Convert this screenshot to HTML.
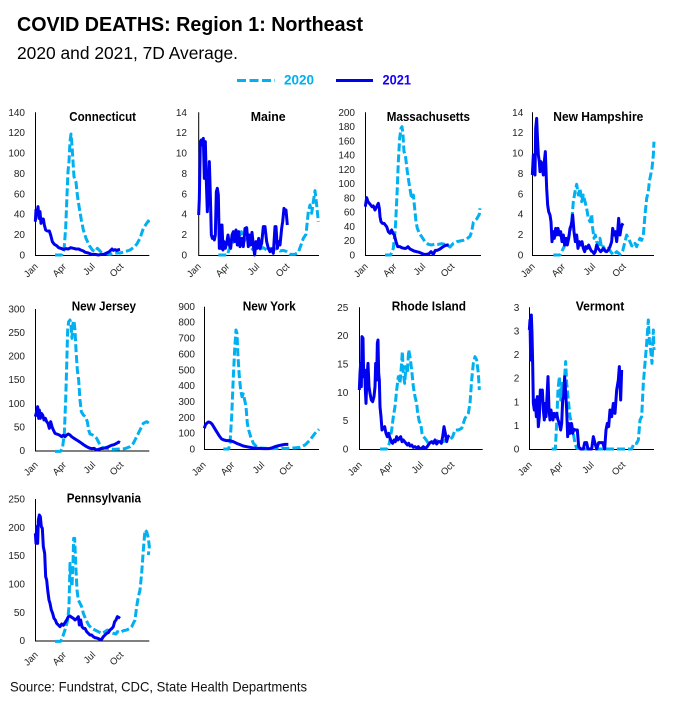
<!DOCTYPE html>
<html><head><meta charset="utf-8"><style>
html,body{margin:0;padding:0;background:#fff;}
svg{display:block;}
text{font-family:"Liberation Sans",Arial,sans-serif;}
.t{font-size:10px;fill:#222;text-anchor:end;}
.m{font-size:9.5px;fill:#222;text-anchor:end;}
.pt{font-size:12.5px;font-weight:bold;fill:#000;}
.a{stroke:#000;stroke-width:1;fill:none;}
.d{fill:none;stroke:#00B0F0;stroke-width:9;stroke-dasharray:24 9;stroke-linejoin:round;}
.s{fill:none;stroke:#0000F0;stroke-width:9;stroke-linejoin:round;}
</style></head><body>
<svg width="677" height="703" viewBox="0 0 677 703" xmlns="http://www.w3.org/2000/svg">
<rect width="677" height="703" fill="#fff"/>
<text x="17" y="31" font-size="20" font-weight="bold" textLength="346" lengthAdjust="spacingAndGlyphs">COVID DEATHS: Region 1: Northeast</text>
<text x="17" y="59" font-size="17.5" textLength="221" lengthAdjust="spacingAndGlyphs">2020 and 2021, 7D Average.</text>
<line x1="237" y1="80.5" x2="275" y2="80.5" stroke="#00B0F0" stroke-width="3" stroke-dasharray="9 3.5"/>
<text x="284" y="84.5" font-size="13.5" font-weight="bold" fill="#00B0F0" textLength="30" lengthAdjust="spacingAndGlyphs">2020</text>
<line x1="336" y1="80.5" x2="373" y2="80.5" stroke="#0000F0" stroke-width="3"/>
<text x="382.5" y="84.5" font-size="13.5" font-weight="bold" fill="#1500F5" textLength="28.5" lengthAdjust="spacingAndGlyphs">2021</text>

<!-- Panel titles -->
<text class="pt" x="69.3" y="121" textLength="66.7" lengthAdjust="spacingAndGlyphs">Connecticut</text>
<text class="pt" x="250.7" y="121" textLength="35" lengthAdjust="spacingAndGlyphs">Maine</text>
<text class="pt" x="386.7" y="121" textLength="83.3" lengthAdjust="spacingAndGlyphs">Massachusetts</text>
<text class="pt" x="553.3" y="121" textLength="90" lengthAdjust="spacingAndGlyphs">New Hampshire</text>
<text class="pt" x="71.7" y="310.7" textLength="64.3" lengthAdjust="spacingAndGlyphs">New Jersey</text>
<text class="pt" x="242.7" y="310.7" textLength="53" lengthAdjust="spacingAndGlyphs">New York</text>
<text class="pt" x="391.7" y="310.7" textLength="74.3" lengthAdjust="spacingAndGlyphs">Rhode Island</text>
<text class="pt" x="575.7" y="310.7" textLength="48.6" lengthAdjust="spacingAndGlyphs">Vermont</text>
<text class="pt" x="66.7" y="502.5" textLength="74.3" lengthAdjust="spacingAndGlyphs">Pennsylvania</text>

<g class="t">
<text x="25" y="258.5">0</text><text x="25" y="238.1">20</text><text x="25" y="217.7">40</text><text x="25" y="197.3">60</text><text x="25" y="176.9">80</text><text x="25" y="156.5">100</text><text x="25" y="136.1">120</text><text x="25" y="115.8">140</text>
<text x="187" y="258.5">0</text><text x="187" y="238.1">2</text><text x="187" y="217.7">4</text><text x="187" y="197.3">6</text><text x="187" y="176.9">8</text><text x="187" y="156.5">10</text><text x="187" y="136.1">12</text><text x="187" y="115.8">14</text>
<text x="355" y="258.5">0</text><text x="355" y="244.2">20</text><text x="355" y="229.9">40</text><text x="355" y="215.6">60</text><text x="355" y="201.4">80</text><text x="355" y="187.1">100</text><text x="355" y="172.8">120</text><text x="355" y="158.6">140</text><text x="355" y="144.3">160</text><text x="355" y="130.0">180</text><text x="355" y="115.8">200</text>
<text x="523.3" y="258.5">0</text><text x="523.3" y="238.1">2</text><text x="523.3" y="217.7">4</text><text x="523.3" y="197.3">6</text><text x="523.3" y="176.9">8</text><text x="523.3" y="156.5">10</text><text x="523.3" y="136.1">12</text><text x="523.3" y="115.8">14</text>
<text x="25" y="454.2">0</text><text x="25" y="430.6">50</text><text x="25" y="406.9">100</text><text x="25" y="383.2">150</text><text x="25" y="359.6">200</text><text x="25" y="335.9">250</text><text x="25" y="312.3">300</text>
<text x="195" y="452.5">0</text><text x="195" y="436.6">100</text><text x="195" y="420.8">200</text><text x="195" y="405.0">300</text><text x="195" y="389.1">400</text><text x="195" y="373.3">500</text><text x="195" y="357.4">600</text><text x="195" y="341.6">700</text><text x="195" y="325.7">800</text><text x="195" y="309.9">900</text>
<text x="348.3" y="452.5">0</text><text x="348.3" y="424.2">5</text><text x="348.3" y="395.8">10</text><text x="348.3" y="367.5">15</text><text x="348.3" y="339.1">20</text><text x="348.3" y="310.8">25</text>
<text x="519.3" y="452.5">0</text><text x="519.3" y="428.9">1</text><text x="519.3" y="405.3">1</text><text x="519.3" y="381.7">2</text><text x="519.3" y="358.1">2</text><text x="519.3" y="334.4">3</text><text x="519.3" y="310.8">3</text>
<text x="25" y="644.2">0</text><text x="25" y="615.9">50</text><text x="25" y="587.6">100</text><text x="25" y="559.2">150</text><text x="25" y="530.9">200</text><text x="25" y="502.5">250</text>
</g>

<g class="m">
<text transform="translate(38.5,267) rotate(-45)">Jan</text><text transform="translate(66.8,267) rotate(-45)">Apr</text><text transform="translate(95.5,267) rotate(-45)">Jul</text><text transform="translate(124,267) rotate(-45)">Oct</text>
<text transform="translate(201.5,267) rotate(-45)">Jan</text><text transform="translate(230,267) rotate(-45)">Apr</text><text transform="translate(260,267) rotate(-45)">Jul</text><text transform="translate(290,267) rotate(-45)">Oct</text>
<text transform="translate(368.5,267) rotate(-45)">Jan</text><text transform="translate(397.3,267) rotate(-45)">Apr</text><text transform="translate(426,267) rotate(-45)">Jul</text><text transform="translate(455,267) rotate(-45)">Oct</text>
<text transform="translate(535.5,267) rotate(-45)">Jan</text><text transform="translate(565.8,267) rotate(-45)">Apr</text><text transform="translate(596,267) rotate(-45)">Jul</text><text transform="translate(626.5,267) rotate(-45)">Oct</text>
<text transform="translate(38.5,465.4) rotate(-45)">Jan</text><text transform="translate(66.8,465.4) rotate(-45)">Apr</text><text transform="translate(96,465.4) rotate(-45)">Jul</text><text transform="translate(124,465.4) rotate(-45)">Oct</text>
<text transform="translate(206.5,465.4) rotate(-45)">Jan</text><text transform="translate(235,465.4) rotate(-45)">Apr</text><text transform="translate(265,465.4) rotate(-45)">Jul</text><text transform="translate(293.3,465.4) rotate(-45)">Oct</text>
<text transform="translate(362.5,465.4) rotate(-45)">Jan</text><text transform="translate(393.2,465.4) rotate(-45)">Apr</text><text transform="translate(423.9,465.4) rotate(-45)">Jul</text><text transform="translate(454.9,465.4) rotate(-45)">Oct</text>
<text transform="translate(532.5,465.4) rotate(-45)">Jan</text><text transform="translate(563.5,465.4) rotate(-45)">Apr</text><text transform="translate(594.5,465.4) rotate(-45)">Jul</text><text transform="translate(625.9,465.4) rotate(-45)">Oct</text>
<text transform="translate(38.5,655.4) rotate(-45)">Jan</text><text transform="translate(66.8,655.4) rotate(-45)">Apr</text><text transform="translate(96,655.4) rotate(-45)">Jul</text><text transform="translate(124,655.4) rotate(-45)">Oct</text>
</g>

<g class="a">
<path d="M35.5 112.3V255.5H149.3"/>
<path d="M198.7 112.3V255.5H319"/>
<path d="M365.5 112.3V255.5H481"/>
<path d="M532.5 112.3V255.5H654"/>
<path d="M35.5 309V451H149.3"/>
<path d="M204.5 306.7V449.5H319"/>
<path d="M359.5 307.3V449.5H482.7"/>
<path d="M529.5 307.3V449.5H654"/>
<path d="M35.5 499V641H149.3"/>
</g>

<g transform="translate(0,95) scale(0.333333)">
<polyline class="d" points="165,480 185,480 192,465 197,400 201,300 204,230 207,200 210,140 213,117 216,150 219,200 222,245 225,255 228,262 232,300 238,340 244,375 250,405 258,430 268,452 278,466 286,470 292,460 298,466 306,474 316,476 330,478 345,474 360,474 375,470 390,465 400,458 410,448 420,430 430,400 440,385 445,378 448,386"/>
<polyline class="s" points="106,380 108,345 111,360 114,335 117,370 120,350 123,385 126,372 130,372 133,390 137,405 142,408 148,408 152,420 157,440 163,448 170,452 176,458 182,460 190,463 198,461 205,462 212,458 220,460 228,462 236,462 242,465 250,468 256,472 265,474 275,478 285,478 295,480 305,478 312,478 320,474 328,470 336,462 340,466 345,464 350,466 356,464 360,463"/>
<polyline class="d" points="655,480 682,480 690,455 700,440 708,410 716,430 724,410 732,440 740,425 750,455 760,465 770,455 780,462 790,458 800,465 810,460 820,462 830,462 840,468 850,466 860,470 870,478 885,478 895,472 903,450 910,430 918,418 925,350 930,330 935,355 940,320 945,287 950,330 955,380"/>
<polyline class="s" points="596,360 598,310 601,140 604,135 607,150 610,130 613,250 616,140 619,260 622,350 625,280 628,200 631,300 634,420 637,430 640,425 643,435 646,420 649,290 652,280 655,300 658,460 660,390 663,460 666,390 669,465 672,440 676,460 680,445 684,420 688,450 692,460 696,420 700,410 704,440 708,405 712,450 716,410 720,455 725,430 730,455 735,400 740,398 745,455 748,420 752,450 756,412 760,450 764,480 768,440 772,460 776,430 780,460 785,445 790,395 795,395 800,440 805,460 810,470 815,462 820,475 825,395 828,395 832,460 836,440 840,450 845,400 848,380 852,340 855,350 858,345 862,390"/>
</g>

<g transform="translate(330,95) scale(0.333333)">
<polyline class="d" points="165,480 182,480 190,460 196,400 201,300 205,200 209,130 213,100 216,95 219,120 222,170 226,180 232,230 238,270 243,300 246,312 250,300 254,340 258,380 262,400 268,415 275,425 285,440 295,448 305,450 315,447 325,448 335,446 345,448 352,450 360,456 370,445 380,440 390,438 400,436 410,432 420,424 425,410 430,382 440,372 448,358 450,340"/>
<polyline class="s" points="106,335 110,308 114,320 118,325 122,330 126,335 130,333 135,345 140,335 145,325 148,340 150,365 153,380 157,385 162,385 166,390 170,395 175,410 180,415 185,405 189,415 193,420 198,440 203,455 210,455 215,458 222,460 228,460 234,455 240,462 246,465 252,468 260,470 268,472 275,475 282,478 290,478 297,476 303,470 310,478 316,466 322,466 330,462 338,456 345,452 352,450 356,450"/>
<polyline class="d" points="670,480 690,480 700,460 710,440 718,420 725,380 730,320 735,290 740,268 745,300 750,280 755,320 760,300 765,320 770,340 775,370 780,380 785,358 788,400 792,430 796,420 800,440 805,450 810,430 815,460 820,455 828,470 835,460 842,470 850,480 860,470 870,478 878,468 885,440 890,420 895,430 900,440 905,452 910,455 915,445 920,455 925,440 930,430 935,436 940,420 945,360 950,310 955,290 958,260 962,240 966,220 970,180 972,140"/>
<polyline class="s" points="607,240 610,180 613,200 615,240 617,100 620,70 622,120 625,180 628,200 630,230 633,200 636,210 640,240 643,200 646,170 650,280 653,330 656,350 660,360 663,380 666,440 670,410 673,430 677,400 680,420 684,400 688,420 692,410 696,440 700,420 704,450 708,430 712,450 716,430 720,400 724,390 728,360 732,410 736,440 740,420 744,460 748,440 752,450 756,440 760,460 764,470 768,455 772,460 776,450 780,460 784,468 788,470 792,476 796,470 800,450 804,460 808,465 812,470 816,466 820,460 825,468 830,470 835,465 840,455 845,440 848,400 852,420 856,410 860,440 863,410 866,370 870,420 873,400 876,390 879,385"/>
</g>

<g transform="translate(0,290) scale(0.333333)">
<polyline class="d" points="165,484 182,484 188,470 193,430 197,330 200,230 203,120 206,95 210,90 213,105 216,145 219,100 222,92 225,120 228,180 232,240 236,270 240,330 244,365 250,375 256,380 262,395 266,420 270,432 278,435 285,440 290,445 295,455 300,465 305,472 315,474 325,476 340,478 360,477 375,476 390,470 400,460 410,440 420,420 430,400 440,395 448,400"/>
<polyline class="s" points="106,380 110,365 113,350 116,385 118,360 121,385 124,370 128,375 132,390 136,385 140,395 144,400 148,415 152,395 156,410 160,420 165,430 170,432 178,435 185,440 190,436 195,440 200,435 205,432 210,435 215,440 222,445 230,450 238,455 245,460 252,465 260,470 268,474 275,476 282,475 290,480 296,478 302,476 310,475 318,473 326,470 334,466 342,464 350,460 356,456 360,458"/>
<polyline class="d" points="670,477 686,477 690,460 695,380 700,260 704,180 708,120 711,130 714,200 718,260 722,300 726,320 730,312 734,330 738,350 742,400 746,420 752,440 760,460 770,470 780,474 800,475 820,476 840,475 860,475 880,474 900,472 915,465 930,450 945,430 957,418"/>
<polyline class="s" points="613,415 616,405 620,400 625,396 630,397 636,402 642,412 650,425 658,438 665,447 672,450 680,452 690,452 700,455 710,460 720,464 730,468 740,470 750,472 760,474 775,475 790,476 805,476 815,474 825,470 835,467 845,465 855,463 865,463"/>
</g>

<g transform="translate(330,290) scale(0.333333)">
<polyline class="d" points="150,477 170,477 178,460 185,420 190,380 195,350 200,300 205,260 210,280 214,230 217,185 220,250 224,280 228,230 232,250 236,180 240,200 245,240 250,290 255,320 260,340 263,370 268,395 272,400 276,430 280,440 285,445 290,452 295,460 302,460 310,455 320,453 330,450 340,455 350,448 360,450 368,440 375,420 385,420 395,415 405,385 415,370 420,340 425,270 430,220 435,200 440,210 445,250 448,300"/>
<polyline class="s" points="88,300 90,250 92,220 94,290 96,140 99,145 101,260 104,240 106,300 108,340 111,260 114,220 117,290 120,310 124,330 128,335 132,320 135,290 137,220 140,270 142,160 144,150 146,250 148,270 150,350 153,380 156,420 160,415 164,410 168,430 172,440 176,430 180,445 184,455 188,460 192,450 196,455 200,440 204,450 208,445 212,440 216,455 220,450 224,455 228,460 232,465 236,460 240,468 245,465 250,472 255,470 260,474 265,470 270,476 275,475 280,470 285,475 290,472 295,465 300,458 305,455 310,460 315,450 320,462 325,455 330,455 334,460 338,440 342,410 346,430 350,455 354,440 358,436"/>
<polyline class="d" points="665,477 676,477 680,400 684,300 688,260 692,330 696,280 700,310 704,260 707,215 710,280 715,330 720,380 725,400 730,430 735,460 740,475 760,477 800,477 850,477 905,477 912,460 920,460 925,450 930,390 935,380 940,280 945,220 950,160 955,90 958,150 962,180 966,220 970,120 972,180"/>
<polyline class="s" points="598,120 600,90 602,210 604,75 606,130 608,220 610,340 613,360 616,330 619,380 622,320 625,410 628,380 631,300 634,330 637,300 640,360 643,390 646,340 648,380 651,320 654,260 657,360 660,390 663,360 666,380 669,390 672,370 676,380 680,370 684,390 688,400 692,420 695,400 698,330 701,320 704,260 707,310 710,360 713,440 716,400 720,430 724,400 728,430 732,418 736,420 742,420 746,470 752,477 760,477 764,458 770,458 774,477 785,477 790,440 795,460 800,477 806,458 818,458 824,477 828,420 832,400 836,410 840,360 845,380 850,340 855,370 860,300 865,270 868,230 872,330 875,240"/>
</g>

<g transform="translate(0,480) scale(0.333333)">
<polyline class="d" points="165,484 182,484 190,465 198,440 203,420 207,380 210,250 213,300 216,320 219,250 221,175 224,175 227,250 231,330 235,360 240,370 245,380 250,400 258,420 266,435 275,445 285,450 295,455 305,460 315,455 322,450 330,456 340,460 348,462 352,455 360,458 370,452 380,450 390,445 395,440 400,430 405,420 410,380 415,350 420,330 425,280 430,210 435,150 440,155 445,175 448,200 445,225"/>
<polyline class="s" points="106,160 108,190 110,140 113,190 115,120 118,105 121,110 124,140 127,145 130,200 134,220 137,290 140,300 143,330 147,360 150,370 154,390 158,400 162,415 166,420 170,430 175,435 180,440 185,432 190,436 195,428 200,420 205,410 210,408 215,412 220,415 225,420 230,416 235,410 238,435 242,420 246,440 250,445 255,445 260,455 265,460 270,465 275,465 280,470 285,473 290,474 295,476 300,478 305,478 310,470 315,465 320,460 325,458 330,450 336,445 340,440 344,425 348,420 352,410 356,412 360,415"/>
</g>

<text x="10" y="691.5" font-size="14" fill="#111" textLength="297" lengthAdjust="spacingAndGlyphs">Source: Fundstrat, CDC, State Health Departments</text>
</svg>
</body></html>
